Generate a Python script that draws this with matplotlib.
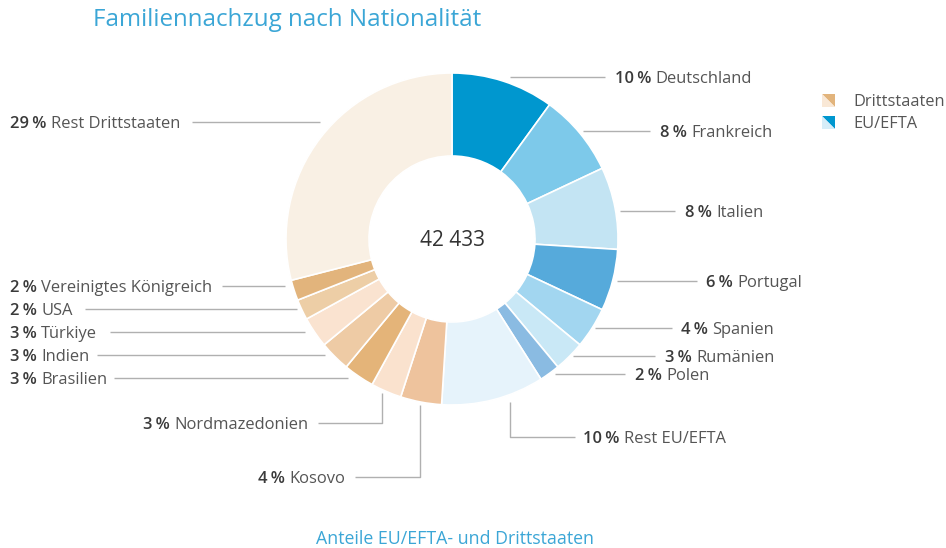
import matplotlib.pyplot as plt
from matplotlib.patches import Polygon

# ============================================================
# DATA
# ============================================================

countries = ["Deutschland", "Frankreich", "Italien", "Portugal", "Spanien",
             "Rumänien", "Polen", "Rest EU/EFTA",
             "Kosovo", "Nordmazedonien", "Brasilien", "Indien", "Türkiye",
             "USA", "Vereinigtes Königreich", "Rest Drittstaaten"]
shares = [10, 8, 8, 6, 4, 3, 2, 10,
          4, 3, 3, 3, 3, 2, 2, 29]
colors = ["#0097cf", "#7dc9ea", "#c3e4f3", "#56aadb", "#a2d6f0",
          "#c9e8f6", "#8abbe2", "#e6f3fb",
          "#eec39d", "#fae2ce", "#e4b479", "#eecba5", "#fae3d0",
          "#edcea6", "#e2b47c", "#f9f0e4"]
total = "42 433"
legend_labels = ["Drittstaaten", "EU/EFTA"]
legend_colors = [("#e2b47c", "#f9e8d6"), ("#0097cf", "#d6edf8")]

TITLE = "Familiennachzug nach Nationalität"
CAPTION = "Anteile EU/EFTA- und Drittstaaten"

# ============================================================
# LAYOUT (pixel coords, y from top)
# ============================================================

W, H = 946, 548
CX, CY, R = 452, 239, 166
FS = 11.9

# label: (text x, text y, line path as list of points)
label_layout = {
    "Deutschland": (615, 77, [(510, 77), (605, 77)]),
    "Frankreich": (660, 131, [(583, 131), (650, 131)]),
    "Italien": (685, 211, [(620, 211), (675, 211)]),
    "Portugal": (706, 281, [(617, 281), (697, 281)]),
    "Spanien": (681, 328, [(595, 328), (672, 328)]),
    "Rumänien": (665, 356, [(573, 356), (655, 356)]),
    "Polen": (635, 374, [(555, 374), (625, 374)]),
    "Rest EU/EFTA": (583, 437, [(510, 402), (510, 437), (575, 437)]),
    "Kosovo": (258, 477, [(355, 477), (420, 477), (420, 405)]),
    "Nordmazedonien": (143, 423, [(318, 423), (382, 423), (382, 393)]),
    "Brasilien": (10, 378, [(114, 378), (348, 378)]),
    "Indien": (10, 355, [(97, 355), (325, 355)]),
    "Türkiye": (10, 332, [(110, 332), (305, 332)]),
    "USA": (10, 309, [(85, 309), (297, 309)]),
    "Vereinigtes Königreich": (10, 286, [(222, 286), (285, 286)]),
    "Rest Drittstaaten": (10, 122, [(192, 122), (320, 122)]),
}

plt.rcParams["font.family"] = ["Open Sans", "DejaVu Sans"]

def py(y):
    return H - y

# ============================================================
# PLOT
# ============================================================

fig = plt.figure(figsize=(W / 100, H / 100), dpi=100)
ax = fig.add_axes([0, 0, 1, 1])

ax.pie(shares, colors=colors, startangle=90, counterclock=False,
       center=(CX, py(CY)), radius=R, frame=True,
       wedgeprops=dict(width=83, edgecolor="white", linewidth=1.2))

ax.set_xlim(0, W)
ax.set_ylim(0, H)
ax.set_aspect("equal")
ax.axis("off")

ax.text(CX, py(CY) - 2, total, ha="center", va="center",
        fontsize=15, color="#333333")

for name, pct in zip(countries, shares):
    tx, ty, path = label_layout[name]
    xs = [p[0] for p in path]
    ys = [py(p[1]) for p in path]
    ax.plot(xs, ys, color="#b0b0b0", linewidth=1.0, solid_capstyle="butt")
    t = ax.text(tx, py(ty) - 2, f"{pct}\u2009%", ha="left", va="center",
                fontsize=FS, fontweight="semibold", color="#3a3a3a")
    ax.annotate(name, xy=(1, 0.5), xycoords=t, xytext=(3, 0),
                textcoords="offset points", ha="left", va="center",
                fontsize=FS, color="#555555")

# title and caption
fig.text(93 / W, 1 - 20 / H, TITLE, ha="left", va="center",
         fontsize=17.4, color="#3ba6d6")
fig.text(CX / W + 3 / W, 1 - 539 / H, CAPTION, ha="center", va="center",
         fontsize=12.8, color="#3ba6d6")

# legend with diagonal split squares
for i, (lab, (dark, light)) in enumerate(zip(legend_labels, legend_colors)):
    y0 = 94 + i * 22
    x0, s = 822, 13
    ax.add_patch(Polygon([(x0, py(y0)), (x0 + s, py(y0)), (x0 + s, py(y0 + s))],
                         closed=True, facecolor=dark, edgecolor="none"))
    ax.add_patch(Polygon([(x0, py(y0)), (x0, py(y0 + s)), (x0 + s, py(y0 + s))],
                         closed=True, facecolor=light, edgecolor="none"))
    ax.text(853, py(y0 + 8), lab, ha="left", va="center",
            fontsize=11.8, color="#555555")

fig.savefig("out.png", dpi=100)
